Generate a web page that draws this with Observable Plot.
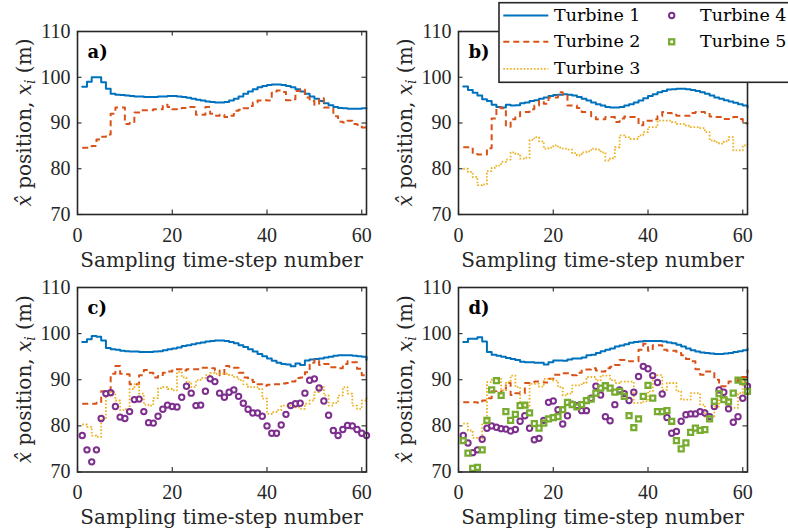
<!DOCTYPE html>
<html>
<head>
<meta charset="utf-8">
<script src="https://cdn.jsdelivr.net/npm/d3@7"></script>
<script src="https://cdn.jsdelivr.net/npm/@observablehq/plot@0.6"></script>
<style>
  html, body { margin: 0; padding: 0; background: white; }
  #chart { position: relative; width: 788px; height: 531px; overflow: hidden; background: white; }
  .cell { position: absolute; }
  #legend { position: absolute; left: 497px; top: 0px; z-index: 10; }
</style>
</head>
<body>
<div id="chart"></div>
<script>
// ---------- DATA ----------
const xTicks = [0, 20, 40, 60];
const yTicks = [70, 80, 90, 100, 110];
const turbineNames = ["Turbine 1", "Turbine 2", "Turbine 3", "Turbine 4", "Turbine 5"];
const panelLabels = ["a)", "b)", "c)", "d)"];
const xLabel = "Sampling time-step number";

// panel a
const aT1 = [97.9,99.0,100.0,100.0,98.9,97.5,96.4,96.2,96.1,96.0,95.9,95.8,95.8,95.7,95.7,95.7,95.8,95.8,95.9,95.9,95.8,95.7,95.5,95.3,95.1,94.9,94.7,94.6,94.5,94.5,94.6,94.9,95.3,95.8,96.4,96.9,97.4,97.8,98.1,98.3,98.4,98.4,98.3,98.1,97.8,97.4,96.9,96.4,95.8,95.3,94.8,94.3,93.9,93.5,93.3,93.2,93.1,93.1,93.1,93.2,93.2];
const aT2 = [84.6,84.6,85.0,86.4,87.0,87.5,92.0,93.4,93.4,89.8,90.0,92.3,92.8,92.8,92.8,93.0,93.0,94.0,93.5,93.0,93.2,93.3,93.5,93.5,91.8,91.8,93.5,92.0,91.6,91.8,91.3,91.6,92.7,92.9,93.2,93.7,94.5,94.9,95.0,94.9,96.6,97.1,96.8,95.0,95.2,97.0,97.3,95.6,94.8,94.0,95.4,93.4,93.1,91.5,90.3,90.1,90.5,89.8,89.6,89.0,88.9];

// panel b
const bT1 = [98.0,97.2,96.6,96.0,95.2,94.8,94.0,93.5,93.4,94.0,93.8,93.9,94.3,94.5,94.8,95.0,95.3,95.6,95.9,96.1,96.2,96.3,96.2,96.0,95.7,95.3,94.9,94.5,94.1,93.8,93.5,93.4,93.4,93.5,93.8,94.1,94.5,94.9,95.4,95.9,96.3,96.7,97.0,97.3,97.4,97.5,97.5,97.4,97.2,97.0,96.7,96.4,96.0,95.6,95.3,95.0,94.7,94.4,94.1,93.8,93.4];
const bT2 = [84.7,84.7,83.2,83.1,83.1,84.5,91.0,93.4,93.2,89.2,90.8,91.5,92.4,92.4,93.0,93.8,94.8,94.2,95.6,95.6,96.7,96.2,93.8,93.8,93.3,92.4,92.4,91.5,90.8,90.8,91.3,91.3,90.2,91.0,91.4,91.3,91.3,89.5,90.5,90.5,90.8,91.5,92.4,92.2,91.8,91.6,91.6,91.6,92.2,92.4,92.4,92.2,91.4,91.3,91.3,90.9,90.9,91.3,90.9,89.9,89.8];
const bT3 = [80.0,79.3,78.2,76.4,76.6,79.5,80.2,80.7,81.5,82.0,83.6,83.2,82.2,82.4,86.3,86.9,86.0,84.4,84.6,85.1,84.6,84.4,84.2,83.4,82.9,83.6,83.8,84.4,84.2,83.6,81.8,82.3,84.7,87.3,86.9,86.5,86.5,87.3,88.0,89.1,89.1,90.5,90.5,90.5,90.2,89.8,89.8,89.4,89.1,89.1,88.9,88.0,86.2,85.8,85.5,86.0,86.9,84.0,84.0,85.1,85.3];

// panel c
const cT1 = [98.2,98.8,99.5,99.3,98.5,96.9,96.6,96.5,96.3,96.2,96.1,96.1,96.0,96.0,96.0,96.1,96.2,96.4,96.6,96.8,97.0,97.3,97.5,97.7,97.9,98.1,98.3,98.4,98.5,98.5,98.4,98.2,97.9,97.5,97.1,96.6,96.1,95.6,95.1,94.6,94.1,93.7,93.4,93.3,92.9,93.5,93.2,94.2,94.4,94.5,94.6,94.8,95.0,95.2,95.3,95.3,95.3,95.2,95.1,95.0,94.3];
const cT2 = [84.8,84.8,84.8,85.0,87.5,87.5,91.3,93.0,91.3,91.2,89.0,89.0,91.0,92.1,91.5,90.5,90.8,91.5,91.8,92.3,92.3,92.0,92.3,92.3,92.3,92.6,92.6,92.5,92.0,91.0,93.0,92.8,92.6,91.5,90.5,90.0,89.5,89.0,88.7,88.9,89.0,89.0,89.2,89.3,89.6,90.4,90.5,91.6,93.7,94.3,93.2,93.4,92.7,92.7,92.5,93.4,94.0,93.8,92.4,91.0,91.1];
const cT3 = [80.3,79.8,77.9,77.6,81.5,86.5,87.3,85.5,83.4,83.6,88.0,89.0,87.0,84.6,84.4,86.0,88.2,88.4,88.0,87.7,91.7,90.5,89.5,88.4,89.9,90.4,91.0,91.5,91.3,91.3,91.3,91.0,90.6,89.9,89.0,88.4,88.4,88.0,85.9,82.6,83.0,83.4,84.4,84.4,84.4,84.0,83.7,84.8,85.5,87.3,88.4,86.6,84.4,85.0,86.6,88.4,87.0,84.4,83.7,85.5,86.2];
const cT4 = [77.9,74.8,72.2,74.8,81.6,87.0,87.2,84.2,81.9,81.6,83.1,85.7,85.8,83.1,80.7,80.6,82.1,83.6,84.5,84.2,84.1,86.2,88.6,87.1,84.4,84.5,87.5,90.2,89.6,87.1,86.2,87.3,87.8,86.4,84.9,83.6,82.8,82.8,82.1,80.0,78.4,78.4,80.2,82.5,84.4,84.8,84.9,87.1,89.9,90.2,88.2,85.4,82.3,79.0,77.9,79.2,80.1,80.0,79.2,78.4,77.9];

// panel d
const dT1 = [98.2,98.9,98.9,99.2,98.3,96.0,95.4,95.2,95.0,94.7,94.5,94.3,93.9,93.8,93.8,93.7,93.7,93.3,93.8,94.2,94.2,94.1,94.4,94.6,94.6,94.8,95.3,95.4,95.8,96.2,96.5,96.8,97.2,97.4,97.7,98.0,98.2,98.3,98.4,98.4,98.4,98.4,98.3,98.1,97.9,97.6,97.2,96.8,96.4,96.1,95.9,95.8,95.7,95.6,95.6,95.7,95.8,96.0,96.2,96.4,96.7];
const dT2 = [85.1,85.1,85.1,85.0,85.5,86.0,87.5,87.0,87.5,89.3,86.7,87.1,87.1,89.3,89.5,89.6,89.6,89.4,90.2,91.1,91.1,91.4,91.4,91.0,91.5,92.2,92.2,92.5,92.0,91.8,92.5,92.8,93.2,94.3,94.3,94.0,94.0,96.5,97.8,96.3,97.5,97.5,96.5,96.3,96.3,95.8,95.3,94.5,94.0,92.3,91.1,91.8,91.8,90.0,88.6,88.6,89.6,89.6,90.6,90.6,92.2];
const dT3 = [80.5,79.0,77.4,77.2,80.5,89.5,90.2,90.2,87.7,89.5,90.9,88.4,85.0,84.0,89.1,89.1,88.5,90.2,90.2,89.8,88.4,86.6,87.0,88.8,88.8,89.3,90.6,90.6,89.8,90.9,90.9,89.9,89.3,89.6,89.6,89.6,85.0,85.0,85.3,87.5,90.8,91.0,87.8,89.3,89.3,87.5,85.7,85.7,87.1,87.1,84.6,82.0,82.0,84.2,86.0,86.0,83.9,83.9,87.1,90.1,90.1];
const dT4 = [77.9,76.3,74.2,74.8,77.1,79.5,80.0,79.7,79.4,79.3,78.9,79.2,81.0,82.2,79.5,77.0,77.3,81.2,85.1,85.4,83.5,80.4,82.2,84.7,84.4,83.3,83.3,86.0,88.6,86.7,82.0,81.1,84.6,87.8,87.0,85.5,87.3,90.7,92.9,92.4,90.9,89.4,86.9,81.8,78.4,78.8,81.0,82.4,82.6,82.6,83.1,82.8,82.0,84.2,87.8,87.3,83.7,80.8,82.0,86.0,88.6];
const dT5 = [76.8,74.1,70.8,71.0,74.8,81.2,87.8,89.8,86.6,83.1,81.2,82.5,84.4,84.5,82.8,80.5,79.5,80.6,81.5,81.8,82.0,83.5,85.1,84.6,84.1,84.6,85.5,85.8,87.1,88.2,88.7,88.2,87.3,87.5,86.4,82.2,79.6,81.5,86.4,88.8,86.0,83.1,83.1,83.3,81.0,76.8,75.0,76.3,78.6,79.5,79.0,79.2,81.5,85.3,87.0,85.7,85.2,87.1,89.9,89.6,87.5];

// ---------- STYLE ----------
const colors = ["#0072BD", "#D95319", "#EDB120", "#7E2F8E", "#77AC30"];
const axisColor = "#262626";
const tickFont = "'Liberation Serif', 'Times New Roman', serif";
const labelFont = "'DejaVu Serif', serif";

const toRows = arr => arr.map((v, i) => ({t: i + 1, v}));

function seriesMarks(list) {
  const marks = [];
  list.forEach((arr, k) => {
    const data = toRows(arr);
    if (k === 0) marks.push(Plot.line(data, {x: "t", y: "v", curve: "step-after", stroke: colors[0], strokeWidth: 2}));
    if (k === 1) marks.push(Plot.line(data, {x: "t", y: "v", curve: "step-after", stroke: colors[1], strokeWidth: 2, strokeDasharray: "6,4", strokeLinecap: "butt"}));
    if (k === 2) marks.push(Plot.line(data, {x: "t", y: "v", curve: "step-after", stroke: colors[2], strokeWidth: 1.8, strokeDasharray: "1.6,1.8", strokeLinecap: "butt"}));
    if (k === 3) marks.push(Plot.dot(data, {x: "t", y: "v", r: 2.7, stroke: colors[3], strokeWidth: 2, fill: "none"}));
    if (k === 4) marks.push(Plot.dot(data, {x: "t", y: "v", r: 2.8, symbol: "square", stroke: colors[4], strokeWidth: 2.3, fill: "none"}));
  });
  return marks;
}

const panels = [
  {label: panelLabels[0], left: 0,   top: 0,   w: 394, h: 272, ml: 77, mr: 28, mt: 31, mb: 58, series: [aT1, aT2]},
  {label: panelLabels[1], left: 394, top: 0,   w: 394, h: 272, ml: 64, mr: 41, mt: 31, mb: 58, series: [bT1, bT2, bT3]},
  {label: panelLabels[2], left: 0,   top: 272, w: 394, h: 259, ml: 77, mr: 28, mt: 15, mb: 59.5, series: [cT1, cT2, cT3, cT4]},
  {label: panelLabels[3], left: 394, top: 272, w: 394, h: 259, ml: 64, mr: 41, mt: 15, mb: 59.5, series: [dT1, dT2, dT3, dT4, dT5]}
];

const chart = document.getElementById("chart");
const tickLen = 4.5;

panels.forEach(p => {
  const pw = p.w - p.ml - p.mr;
  const ph = p.h - p.mt - p.mb;
  const svg = Plot.plot({
    width: p.w, height: p.h,
    marginLeft: p.ml, marginRight: p.mr, marginTop: p.mt, marginBottom: p.mb,
    x: {domain: [0, 61]},
    y: {domain: [70, 110]},
    style: {background: "transparent", fontFamily: tickFont, fontSize: "20px", color: axisColor, overflow: "visible"},
    marks: [
      ...seriesMarks(p.series),
      Plot.ruleX(xTicks, {x: d => d, insetTop: ph - tickLen, stroke: axisColor, strokeWidth: 1.1}),
      Plot.ruleX(xTicks, {x: d => d, insetBottom: ph - tickLen, stroke: axisColor, strokeWidth: 1.1}),
      Plot.ruleY(yTicks, {y: d => d, insetRight: pw - tickLen, stroke: axisColor, strokeWidth: 1.1}),
      Plot.ruleY(yTicks, {y: d => d, insetLeft: pw - tickLen, stroke: axisColor, strokeWidth: 1.1}),
      Plot.frame({stroke: axisColor, strokeWidth: 1.6}),
      Plot.axisX(xTicks, {anchor: "bottom", tickSize: 0, tickPadding: 13, label: null, fontSize: 20, fill: axisColor}),
      Plot.axisY(yTicks, {anchor: "left", tickSize: 0, tickPadding: 7, label: null, fontSize: 20, fill: axisColor}),
      Plot.text([p.label], {text: d => d, frameAnchor: "top-left", dx: 10, dy: 14, textAnchor: "start", lineAnchor: "top", fontFamily: labelFont, fontWeight: "bold", fontSize: 18, fill: "black"})
    ]
  });
  svg.classList.add("cell");
  svg.style.left = p.left + "px";
  svg.style.top = p.top + "px";
  const s = d3.select(svg);
  // x-axis label
  s.append("text")
    .attr("x", p.ml + pw / 2).attr("y", p.h - p.mb + 52.5)
    .attr("text-anchor", "middle")
    .attr("font-family", labelFont).attr("font-size", 20).attr("fill", axisColor)
    .text(xLabel);
  // y-axis label (rotated)
  const yl = s.append("text")
    .attr("transform", `translate(${p.ml - 46},${p.mt + ph / 2}) rotate(-90)`)
    .attr("text-anchor", "middle")
    .attr("font-family", labelFont).attr("font-size", 20).attr("fill", axisColor);
  yl.append("tspan").attr("font-style", "italic").text("x\u0302");
  yl.append("tspan").text(" position, ");
  yl.append("tspan").attr("font-style", "italic").text("x");
  yl.append("tspan").attr("font-style", "italic").attr("font-size", 14).attr("dy", 4).text("i");
  yl.append("tspan").attr("dy", -4).text(" (m)");
  chart.appendChild(svg);
});

// ---------- LEGEND ----------
const leg = d3.create("svg").attr("id", "legend").attr("width", 291).attr("height", 85);
leg.append("rect").attr("x", 2).attr("y", 2.7).attr("width", 400).attr("height", 79.6)
  .attr("fill", "white").attr("stroke", axisColor).attr("stroke-width", 1.6);
const rowsY = [20.7, 47.3, 74];
const lineY = [15.5, 41.8, 68.8];
const dashes = [null, "6,4", "1.6,1.8"];
const widths = [2, 2, 1.8];
for (let k = 0; k < 3; k++) {
  const l = leg.append("line").attr("x1", 6.3).attr("x2", 51.3).attr("y1", lineY[k]).attr("y2", lineY[k])
    .attr("stroke", colors[k]).attr("stroke-width", widths[k]);
  if (dashes[k]) l.attr("stroke-dasharray", dashes[k]);
  leg.append("text").attr("x", 57).attr("y", rowsY[k]).attr("font-family", labelFont).attr("font-size", 17.5)
    .attr("fill", "black").text(turbineNames[k]);
}
leg.append("circle").attr("cx", 174.7).attr("cy", lineY[0]).attr("r", 2.7).attr("fill", "none")
  .attr("stroke", colors[3]).attr("stroke-width", 2);
leg.append("rect").attr("x", 174.7 - 2.5).attr("y", lineY[1] - 2.5).attr("width", 5).attr("height", 5).attr("fill", "none")
  .attr("stroke", colors[4]).attr("stroke-width", 2.3);
leg.append("text").attr("x", 203).attr("y", rowsY[0]).attr("font-family", labelFont).attr("font-size", 17.5).attr("fill", "black").text(turbineNames[3]);
leg.append("text").attr("x", 203).attr("y", rowsY[1]).attr("font-family", labelFont).attr("font-size", 17.5).attr("fill", "black").text(turbineNames[4]);
chart.appendChild(leg.node());
</script>
</body>
</html>
